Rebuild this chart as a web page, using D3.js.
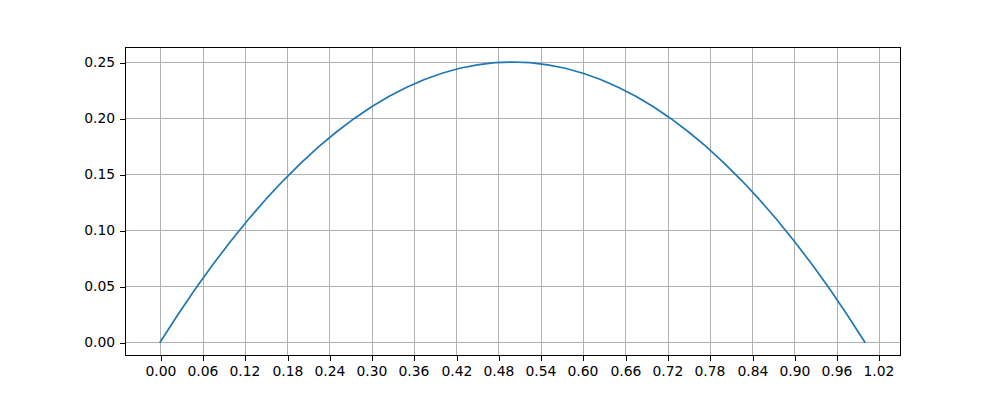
<!DOCTYPE html>
<html>
<head>
<meta charset="utf-8">
<script src="https://cdn.jsdelivr.net/npm/d3@7"></script>
<style>
  body { margin: 0; background: #fff; }
  svg text { font-family: "DejaVu Sans", sans-serif; font-size: 13.9px; fill: #000; }
</style>
</head>
<body>
<svg id="chart" width="1000" height="400"></svg>
<script>
// values
const xValues = [0, 0.025, 0.05, 0.075, 0.1, 0.125, 0.15, 0.175, 0.2, 0.225, 0.25, 0.275, 0.3, 0.325, 0.35, 0.375, 0.4, 0.425, 0.45, 0.475, 0.5,
  0.525, 0.55, 0.575, 0.6, 0.625, 0.65, 0.675, 0.7, 0.725, 0.75, 0.775, 0.8, 0.825, 0.85, 0.875, 0.9, 0.925, 0.95, 0.975, 1];
const yValues = [0, 0.0244, 0.0475, 0.0694, 0.09, 0.1094, 0.1275, 0.1444, 0.16, 0.1744, 0.1875, 0.1994, 0.21, 0.2194, 0.2275, 0.2344, 0.24, 0.2444, 0.2475, 0.2494, 0.25,
  0.2494, 0.2475, 0.2444, 0.24, 0.2344, 0.2275, 0.2194, 0.21, 0.1994, 0.1875, 0.1744, 0.16, 0.1444, 0.1275, 0.1094, 0.09, 0.0694, 0.0475, 0.0244, 0];
const xTicks = [0, 0.06, 0.12, 0.18, 0.24, 0.30, 0.36, 0.42, 0.48, 0.54, 0.60, 0.66, 0.72, 0.78, 0.84, 0.90, 0.96, 1.02];
const yTicks = [0, 0.05, 0.10, 0.15, 0.20, 0.25];

const plotLeft = 125, plotRight = 900, plotTop = 48, plotBottom = 356;
const svg = d3.select('#chart');

const x = d3.scaleLinear().domain([-0.05, 1.05]).range([plotLeft, plotRight]);
const y = d3.scaleLinear().domain([-0.0125, 0.2625]).range([plotBottom, plotTop]);
const snap = v => Math.round(v) + 0.5;

// grid
const grid = svg.append('g').attr('stroke', '#b0b0b0').attr('stroke-width', 1)
  .attr('shape-rendering', 'crispEdges');
grid.selectAll('line.vx').data(xTicks).enter().append('line')
  .attr('x1', d => snap(x(d))).attr('x2', d => snap(x(d)))
  .attr('y1', plotTop).attr('y2', plotBottom);
grid.selectAll('line.hy').data(yTicks).enter().append('line')
  .attr('x1', plotLeft).attr('x2', plotRight)
  .attr('y1', d => snap(y(d))).attr('y2', d => snap(y(d)));

// line
const pts = xValues.map((v, i) => [v, yValues[i]]);
svg.append('path')
  .datum(pts)
  .attr('d', d3.line().x(d => x(d[0])).y(d => y(d[1])))
  .attr('fill', 'none')
  .attr('stroke', '#1f77b4')
  .attr('stroke-width', 1.7)
  .attr('stroke-linejoin', 'round')
  .attr('stroke-linecap', 'square');

// axes
const xAxis = svg.append('g').attr('transform', `translate(0,${plotBottom})`)
  .call(d3.axisBottom(x).tickValues(xTicks).tickFormat(d3.format('.2f')).tickSizeInner(4.9).tickSizeOuter(0).tickPadding(4.9));
const yAxis = svg.append('g').attr('transform', `translate(${plotLeft},0)`)
  .call(d3.axisLeft(y).tickValues(yTicks).tickFormat(d3.format('.2f')).tickSizeInner(4.9).tickSizeOuter(0).tickPadding(4.9));
[xAxis, yAxis].forEach(a => {
  a.select('.domain').remove();
  a.selectAll('.tick').attr('transform', function () {
    const t = d3.select(this).attr('transform');
    const m = /translate\(([-\d.]+),([-\d.]+)\)/.exec(t);
    return `translate(${a === xAxis ? Math.round(+m[1]) : 0},${a === xAxis ? 0 : Math.round(+m[2])})`;
  });
  a.selectAll('.tick line').attr('stroke', '#000').attr('stroke-width', 1)
    .attr('shape-rendering', 'crispEdges');
  a.selectAll('text').attr('font-family', null).attr('font-size', null);
});

// frame
svg.append('rect')
  .attr('x', plotLeft + 0.5).attr('y', plotTop - 0.5)
  .attr('width', plotRight - plotLeft).attr('height', plotBottom - plotTop)
  .attr('fill', 'none').attr('stroke', '#000').attr('stroke-width', 1)
  .attr('shape-rendering', 'crispEdges');
</script>
</body>
</html>
